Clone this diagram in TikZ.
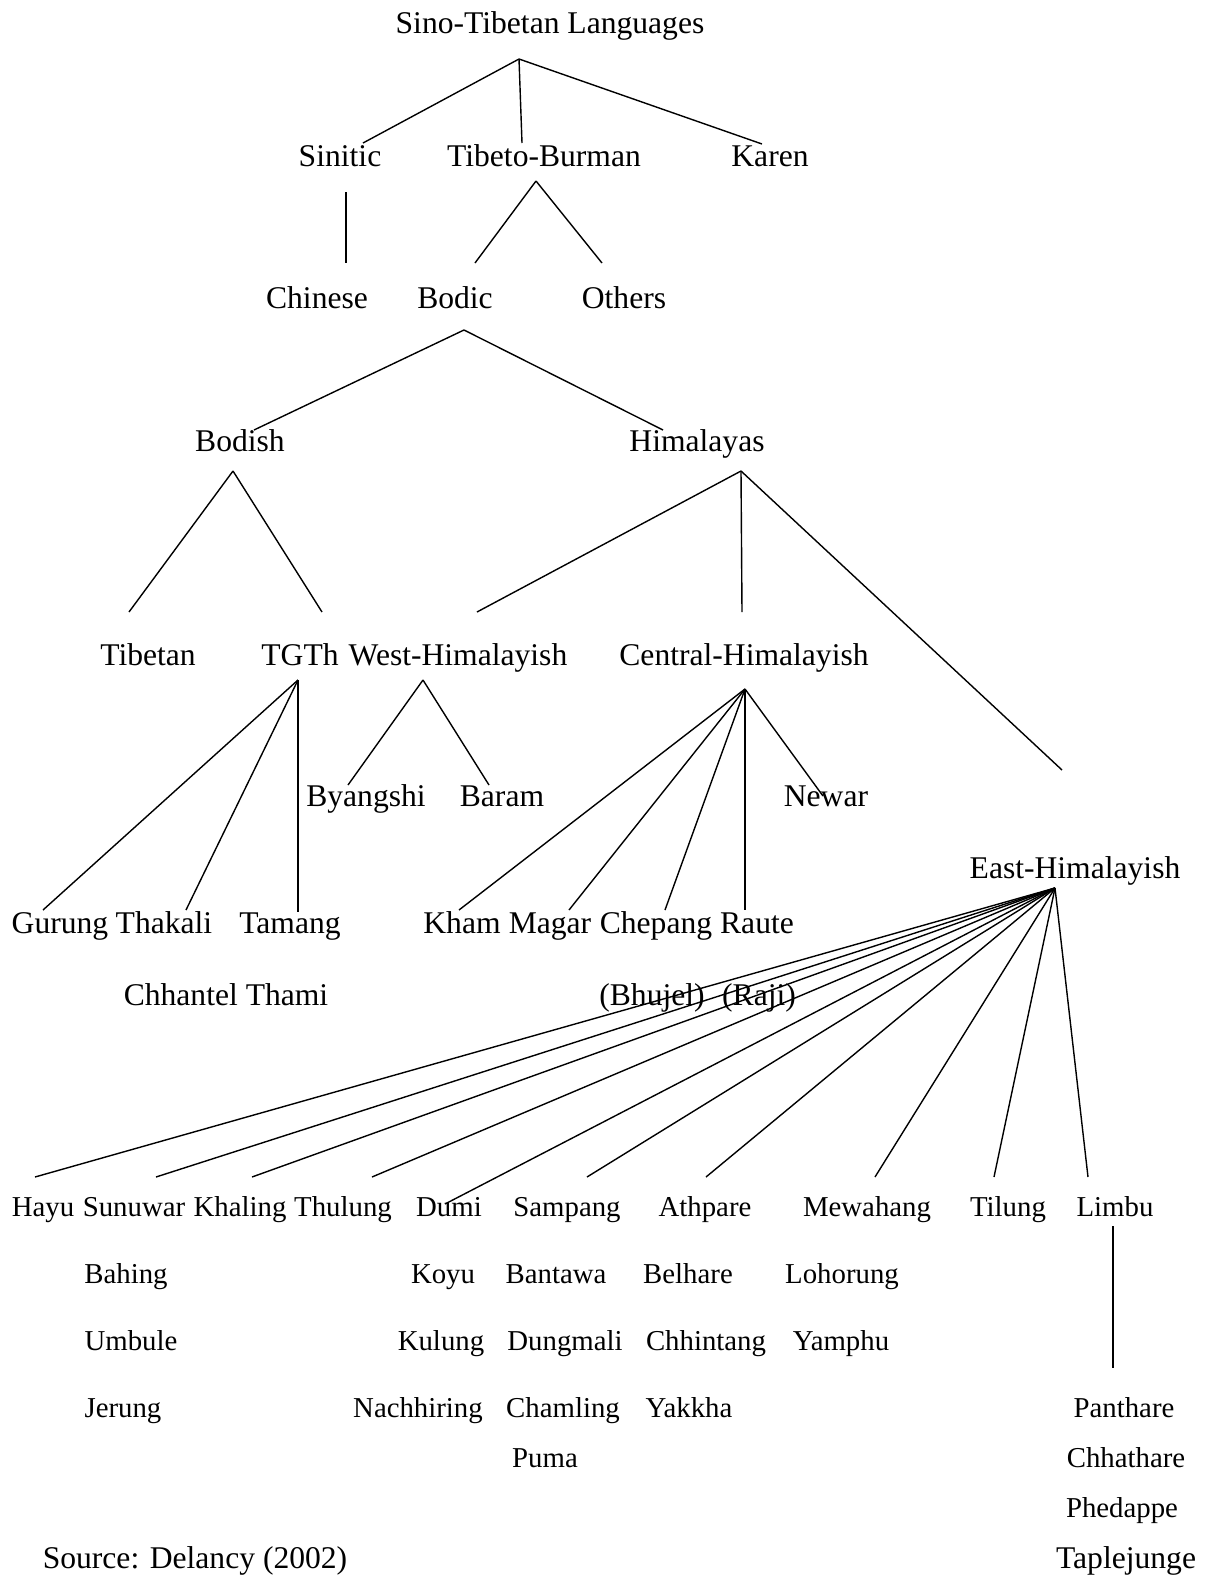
\documentclass[tikz,border=0pt]{standalone}
\usepackage{fontspec}
\setmainfont{Liberation Serif}
\tikzset{lang/.style={anchor=base,inner sep=0pt,font=\fontsize{15.8}{19}\selectfont},
  langsm/.style={lang,font=\fontsize{14.4}{17}\selectfont},
  branch/.style={line width=0.7pt}}
\begin{document}
\begin{tikzpicture}[x=0.5pt,y=-0.5pt]
\useasboundingbox (0,0) rectangle (1208,1575);
% family names
\node[lang] (sino) at (550,33) {Sino-Tibetan Languages};
\node[lang] (sinitic) at (340,166) {Sinitic};
\node[lang] (tibbur) at (544,166) {Tibeto-Burman};
\node[lang] (karen) at (770,166) {Karen};
\node[lang] (chinese) at (317,308) {Chinese};
\node[lang] (bodic) at (455,308) {Bodic};
\node[lang] (others) at (624,308) {Others};
\node[lang] (bodish) at (240,451) {Bodish};
\node[lang] (himal) at (697,451) {Himalayas};
\node[lang] (tibetan) at (148,665) {Tibetan};
\node[lang] (tgth) at (300,665) {TGTh};
\node[lang] (westh) at (458,665) {West-Himalayish};
\node[lang] (centh) at (744,665) {Central-Himalayish};
\node[lang] (byangshi) at (366,806) {Byangshi};
\node[lang] (baram) at (502,806) {Baram};
\node[lang] (newar) at (826,806) {Newar};
\node[lang] (easth) at (1075,878) {East-Himalayish};
\node[lang] (gurung) at (60,933) {Gurung};
\node[lang] (thakali) at (164,933) {Thakali};
\node[lang] (tamang) at (290,933) {Tamang};
\node[lang] (kham) at (462,933) {Kham};
\node[lang] (magar) at (550,933) {Magar};
\node[lang] (chepang) at (656,933) {Chepang};
\node[lang] (raute) at (757,933) {Raute};
\node[lang] (chhantel) at (226,1005) {Chhantel Thami};
\node[lang] (bhujel) at (652,1005) {(Bhujel)};
\node[lang] (raji) at (759,1005) {(Raji)};
% east himalayish languages
\node[langsm] (hayu) at (43,1216) {Hayu};
\node[langsm] (sunuwar) at (134,1216) {Sunuwar};
\node[langsm] (khaling) at (240,1216) {Khaling};
\node[langsm] (thulung) at (343,1216) {Thulung};
\node[langsm] (dumi) at (449,1216) {Dumi};
\node[langsm] (sampang) at (567,1216) {Sampang};
\node[langsm] (athpare) at (705,1216) {Athpare};
\node[langsm] (mewahang) at (867,1216) {Mewahang};
\node[langsm] (tilung) at (1008,1216) {Tilung};
\node[langsm] (limbu) at (1115,1216) {Limbu};
\node[langsm] (bahing) at (126,1283) {Bahing};
\node[langsm] (koyu) at (443,1283) {Koyu};
\node[langsm] (bantawa) at (556,1283) {Bantawa};
\node[langsm] (belhare) at (688,1283) {Belhare};
\node[langsm] (lohorung) at (842,1283) {Lohorung};
\node[langsm] (umbule) at (131,1350) {Umbule};
\node[langsm] (kulung) at (441,1350) {Kulung};
\node[langsm] (dungmali) at (565,1350) {Dungmali};
\node[langsm] (chhintang) at (706,1350) {Chhintang};
\node[langsm] (yamphu) at (841,1350) {Yamphu};
\node[langsm] (jerung) at (123,1417) {Jerung};
\node[langsm] (nachhiring) at (418,1417) {Nachhiring};
\node[langsm] (chamling) at (563,1417) {Chamling};
\node[langsm] (yakkha) at (689,1417) {Yakkha};
\node[langsm] (panthare) at (1124,1417) {Panthare};
\node[langsm] (puma) at (545,1467) {Puma};
\node[langsm] (chhathare) at (1126,1467) {Chhathare};
\node[langsm] (phedappe) at (1122,1517) {Phedappe};
\node[lang] (taplejunge) at (1126,1568) {Taplejunge};
\node[lang] (source) at (195,1568) {Source: Delancy (2002)};
% branch points and line ends
\foreach \n/\x/\y in {sinoA/519/59, sinE/363/143, tbE/522/143, karE/762/144,
  sinA/346/192, chiE/346/263, tbA/536/181, bodcE/475/263, othE/602/263,
  bodcA/464/330, bodsE/254/430, himE/663/430,
  bodsA/233/471, tibE/129/612, tgtE/322/612,
  himA/741/471, westE/477/612, cenE/742/612, eastE/1062/770,
  tgtA/298/680, gurE/43/910, thaE/186/910, tamE/298/912,
  westA/423/680, byaE/348/785, barE/489/785,
  cenA/745/689, khaE/459/910, magE/569/910, cheE/665/910, rauE/745/910, newE/823/796,
  eastA/1055/888, hayE/35/1177, sunE/156/1177, khlE/252/1177, thuE/372/1177,
  dumE/445/1204, samE/587/1177, athE/706/1177, mewE/875/1177, tilE/994/1177, limE/1088/1177,
  limA/1113/1226, panE/1113/1368}
  \coordinate (\n) at (\x,\y);
\foreach \a/\b in {sinoA/sinE, sinoA/tbE, sinoA/karE, sinA/chiE, tbA/bodcE, tbA/othE,
  bodcA/bodsE, bodcA/himE, bodsA/tibE, bodsA/tgtE, himA/westE, himA/cenE, himA/eastE,
  tgtA/gurE, tgtA/thaE, tgtA/tamE, westA/byaE, westA/barE,
  cenA/khaE, cenA/magE, cenA/cheE, cenA/rauE, cenA/newE, limA/panE}
  \draw[branch] (\a)--(\b);
\foreach \b in {hayE,sunE,khlE,thuE,dumE,samE,athE,mewE,tilE,limE}
  \draw[branch] (eastA)--(\b);
\end{tikzpicture}
\end{document}
